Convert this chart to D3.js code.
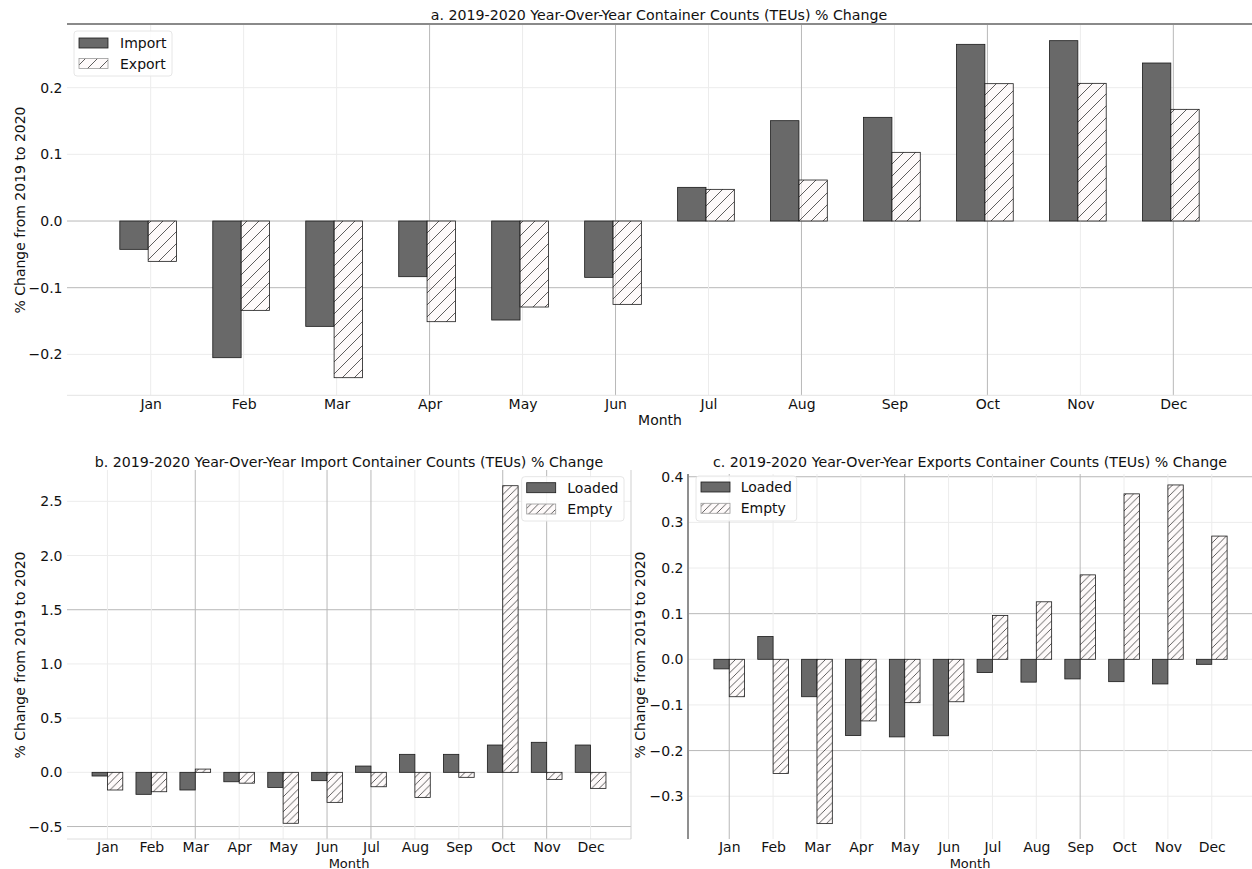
<!DOCTYPE html>
<html>
<head>
<meta charset="utf-8">
<script src="https://cdn.jsdelivr.net/npm/d3@7"></script>
<style>
  html, body { margin: 0; padding: 0; background: #fff; }
  svg { display: block; font-family: "DejaVu Sans", sans-serif; }
</style>
</head>
<body>
<svg id="chart" width="1252" height="869"></svg>
<script>
// ---------------- DATA ----------------
const months = ["Jan","Feb","Mar","Apr","May","Jun","Jul","Aug","Sep","Oct","Nov","Dec"];

// a. total import / export % change
const importVals = [-0.0425,-0.205,-0.158,-0.0835,-0.1485,-0.0845,0.0505,0.1505,0.1555,0.265,0.2705,0.237];
const exportVals = [-0.0605,-0.134,-0.235,-0.151,-0.129,-0.125,0.0475,0.0615,0.103,0.206,0.2065,0.1675];

// b. import loaded / empty
const importLoaded = [-0.034,-0.203,-0.163,-0.087,-0.139,-0.077,0.058,0.166,0.166,0.252,0.277,0.252];
const importEmpty  = [-0.163,-0.179,0.03,-0.10,-0.47,-0.277,-0.133,-0.231,-0.046,2.644,-0.065,-0.148];

// c. export loaded / empty
const exportLoaded = [-0.021,0.05,-0.082,-0.167,-0.17,-0.1675,-0.029,-0.05,-0.043,-0.049,-0.054,-0.011];
const exportEmpty  = [-0.082,-0.25,-0.36,-0.135,-0.095,-0.093,0.096,0.126,0.185,0.3625,0.382,0.270];

const ticksA = [-0.2,-0.1,0.0,0.1,0.2];
const ticksB = [-0.5,0.0,0.5,1.0,1.5,2.0,2.5];
const ticksC = [-0.3,-0.2,-0.1,0.0,0.1,0.2,0.3,0.4];

const titleA = "a. 2019-2020 Year-Over-Year Container Counts (TEUs) % Change";
const titleB = "b. 2019-2020 Year-Over-Year Import Container Counts (TEUs) % Change";
const titleC = "c. 2019-2020 Year-Over-Year Exports Container Counts (TEUs) % Change";
const yLabel = "% Change from 2019 to 2020";
const xLabel = "Month";

// ---------------- STYLE ----------------
const DARK = "#696969";
const HATCH_BG = "#fdf6f6";
const GRID_STRONG = "#b8b8b8";
const GRID_LIGHT = "#ececec";

const svg = d3.select("#chart");
const defs = svg.append("defs");

function hatch(id, s) {
  const p = defs.append("pattern").attr("id", id)
    .attr("patternUnits", "userSpaceOnUse").attr("width", s).attr("height", s);
  p.append("rect").attr("width", s).attr("height", s).attr("fill", HATCH_BG).attr("fill-opacity", 0.6);
  p.append("path")
    .attr("d", `M0,${s} L${s},0 M${-s/2},${s/2} L${s/2},${-s/2} M${s/2},${1.5*s} L${1.5*s},${s/2}`)
    .attr("stroke", "#2a2a2a").attr("stroke-width", 0.75).attr("fill", "none");
}
hatch("hatchA", 12);
hatch("hatchB", 7.5);

const fmt = d3.format(".1f");

function drawPanel(p) {
  const g = svg.append("g");
  const x = d3.scalePoint().domain(months).range([p.left, p.right]).padding(p.pad);
  const y = d3.scaleLinear().domain(p.domain).range([p.bottom, p.top]);
  const step = x.step();
  const w = step * p.barFrac;
  const visRight = Math.min(p.right, 1252);

  // grid
  g.append("g").selectAll("line").data(p.ticks).join("line")
    .attr("x1", p.left).attr("x2", visRight)
    .attr("y1", d => y(d)).attr("y2", d => y(d))
    .attr("stroke", (d, i) => p.hStrong.includes(i) ? GRID_STRONG : GRID_LIGHT)
    .attr("stroke-width", 1);
  g.append("g").selectAll("line").data(months).join("line")
    .attr("x1", d => x(d)).attr("x2", d => x(d))
    .attr("y1", p.top).attr("y2", p.bottom)
    .attr("stroke", (d, i) => p.vStrong.includes(i) ? GRID_STRONG : GRID_LIGHT)
    .attr("stroke-width", 1);

  const off = p.offset * step;
  // series 1 (solid)
  g.append("g").selectAll("rect").data(p.s1).join("rect")
    .attr("x", (d, i) => x(months[i]) - w + off)
    .attr("width", w)
    .attr("y", d => y(Math.max(0, d)))
    .attr("height", d => Math.abs(y(d) - y(0)))
    .attr("fill", DARK).attr("stroke", "#1a1a1a").attr("stroke-width", 0.8);
  // series 2 (hatched)
  g.append("g").selectAll("rect").data(p.s2).join("rect")
    .attr("x", (d, i) => x(months[i]) + off)
    .attr("width", w)
    .attr("y", d => y(Math.max(0, d)))
    .attr("height", d => Math.abs(y(d) - y(0)))
    .attr("fill", `url(#${p.hatch})`).attr("stroke", "#1a1a1a").attr("stroke-width", 0.8);

  // axes
  const ya = g.append("g").attr("transform", `translate(${p.left},0)`)
    .call(d3.axisLeft(y).tickValues(p.ticks).tickSize(0).tickPadding(4.5).tickFormat(fmt));
  ya.select(".domain").remove();
  ya.selectAll("text").attr("font-size", p.fs).attr("font-family", "DejaVu Sans").attr("fill", "#111");

  const xa = g.append("g").attr("transform", `translate(0,${p.bottom})`)
    .call(d3.axisBottom(x).tickSize(0).tickPadding(p.xPad));
  xa.select(".domain").remove();
  xa.selectAll("text").attr("font-size", p.fs).attr("font-family", "DejaVu Sans").attr("fill", "#111");

  // spines
  p.spines.forEach(s => {
    let a;
    if (s.side === "top") a = [p.left, p.top, visRight, p.top];
    if (s.side === "bottom") a = [p.left, p.bottom, visRight, p.bottom];
    if (s.side === "left") a = [p.left, p.top, p.left, p.bottom];
    if (s.side === "right") a = [p.right, p.top, p.right, p.bottom];
    g.append("line").attr("x1", a[0]).attr("y1", a[1]).attr("x2", a[2]).attr("y2", a[3])
      .attr("stroke", s.color).attr("stroke-width", s.width);
  });

  // title
  g.append("text").attr("x", p.titleX).attr("y", p.titleY)
    .attr("text-anchor", "middle").attr("font-size", p.tfs).attr("fill", "#111").text(p.title);
  // x label
  g.append("text").attr("x", p.xLabelX).attr("y", p.xLabelY)
    .attr("text-anchor", "middle").attr("font-size", p.xlfs).attr("fill", "#111").text(xLabel);
  // y label
  g.append("text").attr("transform", `translate(${p.yLabelX},${p.yLabelY}) rotate(-90)`)
    .attr("text-anchor", "middle").attr("font-size", p.fs).attr("fill", "#111").text(yLabel);

  // legend
  const L = p.legend;
  const lg = g.append("g");
  lg.append("rect").attr("x", L.x).attr("y", L.y).attr("width", L.w).attr("height", L.h)
    .attr("rx", 3).attr("fill", "#fff").attr("fill-opacity", 0.85)
    .attr("stroke", "#e6e6e6").attr("stroke-width", 1);
  [[p.names[0], DARK], [p.names[1], `url(#${p.hatch})`]].forEach((it, i) => {
    const ry = L.y + L.row0 + i * L.rowH;
    lg.append("rect").attr("x", L.x + 5).attr("y", ry).attr("width", 29).attr("height", 10)
      .attr("fill", it[1]).attr("stroke", i === 0 ? "#1a1a1a" : "#9a9a9a").attr("stroke-width", 0.8);
    lg.append("text").attr("x", L.tx).attr("y", ry + 10).attr("font-size", p.fs)
      .attr("fill", "#111").text(it[0]);
  });
}

// Panel a
drawPanel({
  left: 67, right: 1257, top: 24, bottom: 395.3, pad: 0.9,
  domain: [-0.2614, 0.2955], ticks: ticksA,
  s1: importVals, s2: exportVals, names: ["Import", "Export"],
  barFrac: 0.305, offset: -0.027, hatch: "hatchA",
  hStrong: [1, 2], vStrong: [3, 5, 7, 9, 11],
  spines: [{side: "top", color: "#8a8a8a", width: 2}, {side: "bottom", color: "#e4e4e4", width: 1}],
  fs: 14, tfs: 14.2, xlfs: 14, xPad: 4,
  title: titleA, titleX: 659, titleY: 20,
  xLabelX: 660, xLabelY: 425,
  yLabelX: 25, yLabelY: 210,
  legend: {x: 74, y: 31, w: 98, h: 45, row0: 7, rowH: 20.5, tx: 120}
});

// Panel b
drawPanel({
  left: 67, right: 631, top: 470, bottom: 839, pad: 0.92,
  domain: [-0.615, 2.789], ticks: ticksB,
  s1: importLoaded, s2: importEmpty, names: ["Loaded", "Empty"],
  barFrac: 0.35, offset: 0, hatch: "hatchB",
  hStrong: [0, 4], vStrong: [2, 5, 6, 9, 10],
  spines: [{side: "bottom", color: "#dedede", width: 1}, {side: "right", color: "#cfcfcf", width: 1}],
  fs: 14, tfs: 14.2, xlfs: 13, xPad: 3.5,
  title: titleB, titleX: 349, titleY: 467,
  xLabelX: 349, xLabelY: 867.5,
  yLabelX: 25, yLabelY: 655,
  legend: {x: 521.7, y: 476.7, w: 102.3, h: 44.3, row0: 6, rowH: 21.3, tx: 567.3}
});

// Panel c
drawPanel({
  left: 688, right: 1253, top: 474, bottom: 839, pad: 0.94,
  domain: [-0.3937, 0.406], ticks: ticksC,
  s1: exportLoaded, s2: exportEmpty, names: ["Loaded", "Empty"],
  barFrac: 0.35, offset: 0, hatch: "hatchB",
  hStrong: [1, 4, 7], vStrong: [0, 4, 8],
  spines: [{side: "left", color: "#8f8f8f", width: 2}],
  fs: 14, tfs: 14.2, xlfs: 13, xPad: 3.5,
  title: titleC, titleX: 970, titleY: 467,
  xLabelX: 970, xLabelY: 867.5,
  yLabelX: 645, yLabelY: 655,
  legend: {x: 696, y: 476, w: 100.7, h: 45, row0: 6, rowH: 21.3, tx: 740.7}
});
</script>
</body>
</html>
